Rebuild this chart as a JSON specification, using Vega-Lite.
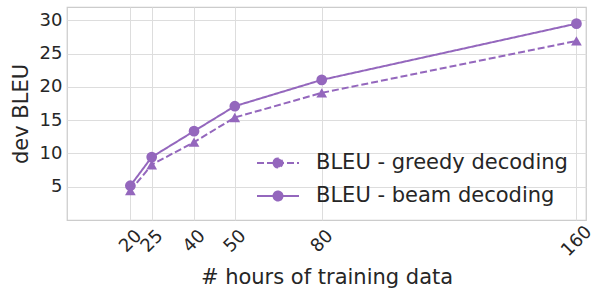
{
  "$schema": "https://vega.github.io/schema/vega-lite/v6.json",
  "width": 519,
  "height": 213,
  "autosize": {"type": "none"},
  "padding": {"left": 67, "top": 7, "right": 10, "bottom": 69},
  "background": "white",
  "config": {
    "font": "DejaVu Sans",
    "view": {"stroke": "#cccccc", "strokeWidth": 1.25},
    "axis": {
      "domain": false,
      "ticks": false,
      "gridColor": "#dddddd",
      "gridWidth": 1,
      "labelFont": "DejaVu Sans",
      "labelFontSize": 18,
      "labelColor": "#262626",
      "titleFont": "DejaVu Sans",
      "titleFontSize": 21,
      "titleFontWeight": "normal",
      "titleColor": "#262626"
    }
  },
  "data": {
    "values": [
      {"hours": 19.9, "bleu": 4.4, "series": "BLEU - greedy decoding"},
      {"hours": 26.6, "bleu": 8.3, "series": "BLEU - greedy decoding"},
      {"hours": 39.9, "bleu": 11.7, "series": "BLEU - greedy decoding"},
      {"hours": 52.7, "bleu": 15.4, "series": "BLEU - greedy decoding"},
      {"hours": 80, "bleu": 19.1, "series": "BLEU - greedy decoding"},
      {"hours": 160, "bleu": 26.9, "series": "BLEU - greedy decoding"},
      {"hours": 19.9, "bleu": 5.15, "series": "BLEU - beam decoding"},
      {"hours": 26.6, "bleu": 9.45, "series": "BLEU - beam decoding"},
      {"hours": 39.9, "bleu": 13.35, "series": "BLEU - beam decoding"},
      {"hours": 52.7, "bleu": 17.1, "series": "BLEU - beam decoding"},
      {"hours": 80, "bleu": 21.05, "series": "BLEU - beam decoding"},
      {"hours": 160, "bleu": 29.5, "series": "BLEU - beam decoding"}
    ]
  },
  "encoding": {
    "x": {
      "field": "hours",
      "type": "quantitative",
      "scale": {"domain": [0, 163], "nice": false, "zero": false},
      "axis": {
        "values": [19.9, 26.6, 39.9, 52.7, 80, 160],
        "labelExpr": "datum.value < 22 ? '20' : datum.value < 30 ? '25' : datum.value < 45 ? '40' : datum.value < 60 ? '50' : format(datum.value, 'd')",
        "labelAngle": -45,
        "labelAlign": "center",
        "labelBaseline": "middle",
        "labelPadding": 21,
        "labelOverlap": false,
        "title": "# hours of training data",
        "titlePadding": 7
      }
    },
    "y": {
      "field": "bleu",
      "type": "quantitative",
      "scale": {"domain": [0, 32], "nice": false},
      "axis": {
        "values": [5, 10, 15, 20, 25, 30],
        "title": "dev BLEU",
        "labelPadding": 5,
        "titlePadding": 8
      }
    }
  },
  "layer": [
    {
      "mark": {"type": "line", "strokeWidth": 2},
      "encoding": {
        "color": {
          "field": "series",
          "type": "nominal",
          "sort": ["BLEU - greedy decoding", "BLEU - beam decoding"],
          "scale": {"domain": ["BLEU - greedy decoding", "BLEU - beam decoding"], "range": ["#9467bd", "#9467bd"]},
          "legend": {
            "title": null,
            "orient": "none",
            "legendX": 200,
            "legendY": 145,
            "direction": "vertical",
            "labelFont": "DejaVu Sans",
            "labelFontSize": 21,
            "labelColor": "#262626",
            "labelLimit": 400,
            "symbolSize": 400,
            "symbolStrokeWidth": 2,
            "labelOffset": 27,
            "rowPadding": 12,
            "encode": {
              "symbols": {
                "update": {
                  "shape": {
                    "condition": {
                      "test": "datum.value === 'BLEU - greedy decoding'",
                      "value": "M-2.1,0H-1.4M-1.1,0H-0.4M0.4,0H1.1M1.4,0H2.1M0,-0.46L0.46,0.42L-0.46,0.42Z"
                    },
                    "value": "M-2.1,0H2.1M-0.45,0A0.45,0.45 0 1,0 0.45,0A0.45,0.45 0 1,0 -0.45,0Z"
                  },
                  "fill": {"value": "#9467bd"},
                  "stroke": {"value": "#9467bd"},
                  "strokeWidth": {"value": 2},
                  "strokeJoin": {"value": "miter"},
                  "strokeCap": {"value": "butt"},
                  "opacity": {"value": 1},
                  "strokeDash": {"value": [1, 0]}
                }
              }
            }
          }
        },
        "strokeDash": {
          "field": "series",
          "type": "nominal",
          "scale": {"domain": ["BLEU - greedy decoding", "BLEU - beam decoding"], "range": [[7, 3], [1, 0]]},
          "legend": null
        }
      }
    },
    {
      "transform": [{"filter": "datum.series === 'BLEU - greedy decoding'"}],
      "mark": {"type": "point", "filled": true, "size": 115, "opacity": 1, "shape": "triangle-up", "color": "#9467bd"}
    },
    {
      "transform": [{"filter": "datum.series === 'BLEU - beam decoding'"}],
      "mark": {"type": "point", "filled": true, "size": 115, "opacity": 1, "shape": "circle", "color": "#9467bd"}
    }
  ]
}
